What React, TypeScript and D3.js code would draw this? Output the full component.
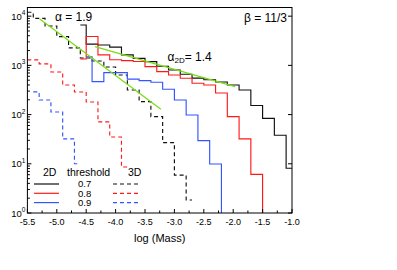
import { scaleLinear, scaleLog, line, curveStep, curveLinear, range } from "d3";

const W = 397;
const H = 270;
const M = { left: 27.4, right: 292, top: 7.5, bottom: 213 };
const FONT = "Liberation Sans, Arial, Helvetica, sans-serif";

const xTicks = [-5.5, -5.0, -4.5, -4.0, -3.5, -3.0, -2.5, -2.0, -1.5, -1.0];
const yTicks = [1, 10, 100, 1000, 10000];
const binWidth = 0.2;

// 2D histograms (solid): centre of first bin, then counts per 0.2 bin
const black2DStart = -4.6;
const black2D = [6600, 2700, 2600, 2350, 1630, 1390, 1190, 960, 806, 660, 550, 510, 460, 400, 316, 153, 84, 38, 8.1];
const red2DStart = -4.6;
const red2D = [1350, 3870, 1630, 1300, 1250, 1200, 940, 745, 638, 547, 433, 400, 275, 91, 32, 6.1, 0];
const blue2DStart = -4.5;
const blue2D = [1500, 466, 711, 711, 525, 490, 454, 327, 198, 98, 29.5, 9.9, 0];

// 3D histograms (dashed)
const black3DStart = -5.5;
const black3D = [12000, 9000, 6300, 3830, 2260, 1415, 1230, 927, 638, 316, 183, 91, 27, 5.9, 1.84];
const red3DStart = -5.6;
const red3D = [1900, 1290, 1070, 734, 400, 288, 180, 71, 35, 8.6];
const blue3DStart = -5.4;
const blue3D = [290, 198, 113, 32, 10];

// power-law fits [log mass, number]
const fit3D: [number, number][] = [[-5.29, 8770], [-3.23, 128]];
const fit2D: [number, number][] = [[-4.35, 2400], [-1.97, 369]];

const thresholds = ["0.7", "0.8", "0.9"];
const colors = ["#111111", "#ff1a1a", "#3355ff"];
const fitColor = "#77dd11";

const x = scaleLinear().domain([-5.5, -1.0]).range([M.left, M.right]);
const y = scaleLog().domain([1, 15000]).range([M.bottom, M.top]);

function toPoints(start: number, counts: number[]): [number, number][] {
  return counts.map((c, i) => [start + i * binWidth, c]);
}

const stepLine = line<[number, number]>()
  .x((d) => x(d[0]))
  .y((d) => (d[1] > 0 ? y(d[1]) : M.bottom + 40))
  .curve(curveStep);

const fitLine = line<[number, number]>()
  .x((d) => x(d[0]))
  .y((d) => y(d[1]))
  .curve(curveLinear);

export default function App() {
  const series2D = [
    toPoints(black2DStart, black2D),
    toPoints(red2DStart, red2D),
    toPoints(blue2DStart, blue2D),
  ];
  const series3D = [
    toPoints(black3DStart, black3D),
    toPoints(red3DStart, red3D),
    toPoints(blue3DStart, blue3D),
  ];

  const minorX = range(-5.5, -0.99, 0.25).filter(
    (v) => !xTicks.some((t) => Math.abs(t - v) < 1e-6)
  );
  const minorY: number[] = [];
  for (let e = 0; e <= 4; e++) {
    for (let k = 2; k <= 9; k++) {
      const v = k * Math.pow(10, e);
      if (v < 15000) minorY.push(v);
    }
  }

  const legendY = [184, 193.3, 202.6];

  return (
    <svg
      width={W}
      height={H}
      style={{ position: "absolute", left: 0, top: 0, background: "#fff" }}
      fontFamily={FONT}
    >
      <defs>
        <clipPath id="plot">
          <rect x={M.left} y={M.top} width={M.right - M.left} height={M.bottom - M.top} />
        </clipPath>
      </defs>

      <g clipPath="url(#plot)" fill="none" strokeWidth={1.15}>
        {series3D.map((s, i) => (
          <path key={"d" + i} d={stepLine(s) ?? undefined} stroke={colors[i]} strokeDasharray="4,3" />
        ))}
        {series2D.map((s, i) => (
          <path key={"s" + i} d={stepLine(s) ?? undefined} stroke={colors[i]} />
        ))}
        <path d={fitLine(fit3D) ?? undefined} stroke={fitColor} strokeWidth={1.2} />
        <path d={fitLine(fit2D) ?? undefined} stroke={fitColor} strokeWidth={1.2} />
      </g>

      {/* frame */}
      <rect
        x={M.left}
        y={M.top}
        width={M.right - M.left}
        height={M.bottom - M.top}
        fill="none"
        stroke="#000"
        strokeWidth={1}
      />

      {/* x ticks */}
      {xTicks.map((t) => (
        <g key={"xt" + t}>
          <line x1={x(t)} x2={x(t)} y1={M.bottom} y2={M.bottom - 4} stroke="#000" />
          <text x={x(t)} y={M.bottom + 12} fontSize={9} textAnchor="middle">
            {t.toFixed(1)}
          </text>
        </g>
      ))}
      {minorX.map((t) => (
        <line key={"xm" + t} x1={x(t)} x2={x(t)} y1={M.bottom} y2={M.bottom - 2.5} stroke="#000" />
      ))}

      {/* y ticks */}
      {yTicks.map((t, i) => (
        <g key={"yt" + t}>
          <line x1={M.left} x2={M.left + 4} y1={y(t)} y2={y(t)} stroke="#000" />
          <line x1={M.right} x2={M.right - 4} y1={y(t)} y2={y(t)} stroke="#000" />
          <text x={M.left - 2} y={y(t) + 3.5} fontSize={9.5} textAnchor="end">
            10
            <tspan dy={-4.5} fontSize={6.5}>
              {i}
            </tspan>
          </text>
        </g>
      ))}
      {minorY.map((t) => (
        <line key={"ym" + t} x1={M.left} x2={M.left + 2.5} y1={y(t)} y2={y(t)} stroke="#000" />
      ))}

      {/* axis titles */}
      <text x={(M.left + M.right) / 2} y={242} fontSize={11} textAnchor="middle">
        log (Mass)
      </text>
      <text transform={`translate(-1.5, 112) rotate(-90)`} fontSize={11} textAnchor="middle">
        Number
      </text>

      {/* annotations */}
      <text x={55} y={21} fontSize={12}>
        α = 1.9
      </text>
      <text x={287} y={22} fontSize={12} textAnchor="end">
        β = 11/3
      </text>
      <text x={167.5} y={61} fontSize={12}>
        α
        <tspan fontSize={8} dy={2}>
          2D
        </tspan>
        <tspan dy={-2}>= 1.4</tspan>
      </text>

      {/* legend */}
      <text x={43} y={176} fontSize={10.5}>
        2D
      </text>
      <text x={67} y={176} fontSize={10.5}>
        threshold
      </text>
      <text x={128} y={176} fontSize={10.5}>
        3D
      </text>
      {thresholds.map((t, i) => (
        <g key={"lg" + t}>
          <line x1={34} x2={59} y1={legendY[i]} y2={legendY[i]} stroke={colors[i]} strokeWidth={1.2} />
          <text x={78} y={legendY[i] + 3.2} fontSize={9.5}>
            {t}
          </text>
          <line
            x1={113}
            x2={139}
            y1={legendY[i]}
            y2={legendY[i]}
            stroke={colors[i]}
            strokeWidth={1.2}
            strokeDasharray="4,3"
          />
        </g>
      ))}
    </svg>
  );
}
